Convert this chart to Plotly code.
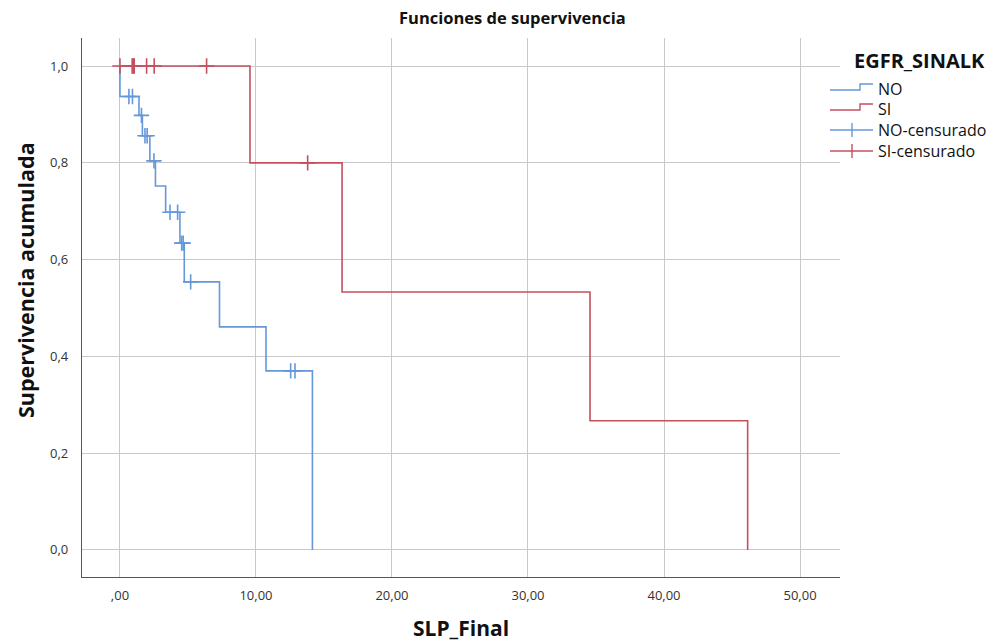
import plotly.graph_objects as go

# Kaplan-Meier step estimates per group (event time, survival after the event)
no_times = [0.0, 1.40, 1.65, 2.20, 2.61, 3.36, 4.41, 4.73, 7.32, 10.74, 14.15]
no_surv = [0.937, 0.898, 0.856, 0.804, 0.752, 0.698, 0.634, 0.554, 0.461, 0.370, 0.0]
no_cens = [0.66, 0.92, 1.58, 1.84, 2.00, 2.50, 3.68, 4.24, 4.54, 4.65, 5.20, 12.55, 12.87]

si_times = [9.56, 16.33, 34.56, 46.15]
si_surv = [0.800, 0.533, 0.267, 0.0]
si_cens = [0.0, 0.90, 0.98, 1.05, 1.96, 2.52, 6.37, 13.80]

x_ticks = [0, 10, 20, 30, 40, 50]
x_ticktext = [",00", "10,00", "20,00", "30,00", "40,00", "50,00"]
y_ticks = [0.0, 0.2, 0.4, 0.6, 0.8, 1.0]
y_ticktext = ["0,0", "0,2", "0,4", "0,6", "0,8", "1,0"]

legend_labels = ["NO", "SI", "NO-censurado", "SI-censurado"]

BLUE = "#6598da"
RED = "#c4505f"
FONT = "Open Sans"
W, H = 1008, 643
L, R, T, B = 82, 168, 38, 66


def level_at(times, surv, t):
    s = 1.0
    for ti, si in zip(times, surv):
        if ti <= t:
            s = si
    return s


def px_x(px):
    return (px - L) / (W - L - R)


def px_y(py):
    return 1 - (py - T) / (H - T - B)


fig = go.Figure()

fig.add_trace(go.Scatter(
    x=[0.0] + no_times, y=[1.0] + no_surv, mode="lines", line_shape="hv",
    line=dict(color=BLUE, width=1.6), name=legend_labels[0], showlegend=False))
fig.add_trace(go.Scatter(
    x=[0.0] + si_times, y=[1.0] + si_surv, mode="lines", line_shape="hv",
    line=dict(color=RED, width=1.6), name=legend_labels[1], showlegend=False))
fig.add_trace(go.Scatter(
    x=no_cens, y=[level_at(no_times, no_surv, t) for t in no_cens],
    mode="markers", name=legend_labels[2], showlegend=False,
    marker=dict(symbol="cross-thin", size=11, line=dict(color=BLUE, width=1.6))))
fig.add_trace(go.Scatter(
    x=si_cens, y=[level_at(si_times, si_surv, t) for t in si_cens],
    mode="markers", name=legend_labels[3], showlegend=False,
    marker=dict(symbol="cross-thin", size=11, line=dict(color=RED, width=1.6))))

annotations = [
    dict(text="<b>Funciones de supervivencia</b>", x=px_x(512), y=px_y(17),
         xref="paper", yref="paper", showarrow=False, xanchor="center", yanchor="middle",
         font=dict(size=16.5, color="#111111")),
    dict(text="<b>SLP_Final</b>", x=px_x(461), y=px_y(628),
         xref="paper", yref="paper", showarrow=False, xanchor="center", yanchor="middle",
         font=dict(size=21, color="#111111")),
    dict(text="<b>Supervivencia acumulada</b>", x=px_x(25), y=px_y(280), textangle=-90,
         xref="paper", yref="paper", showarrow=False, xanchor="center", yanchor="middle",
         font=dict(size=21.5, color="#111111")),
    dict(text="<b>EGFR_SINALK</b>", x=px_x(852), y=px_y(60),
         xref="paper", yref="paper", showarrow=False, xanchor="left", yanchor="middle",
         font=dict(size=20, color="#111111")),
]

# Legend drawn by hand: step icons for the curves, tick-on-line icons for censoring
shapes = []
legend_rows = [89, 109, 130, 151]
legend_colors = [BLUE, RED, BLUE, RED]
for i, (label, row, col) in enumerate(zip(legend_labels, legend_rows, legend_colors)):
    annotations.append(dict(
        text=label, x=px_x(876), y=px_y(row), xref="paper", yref="paper",
        showarrow=False, xanchor="left", yanchor="middle",
        font=dict(size=16, color="#111111")))
    if i < 2:
        lo, hi = px_y(row + 1), px_y(row - 5)
        path = (f"M {px_x(830)} {lo} L {px_x(860)} {lo} L {px_x(860)} {hi} "
                f"L {px_x(873)} {hi}")
        shapes.append(dict(type="path", path=path, xref="paper", yref="paper",
                           line=dict(color=col, width=1.4)))
    else:
        shapes.append(dict(type="line", x0=px_x(830), x1=px_x(873),
                           y0=px_y(row), y1=px_y(row), xref="paper", yref="paper",
                           line=dict(color=col, width=1.4)))
        shapes.append(dict(type="line", x0=px_x(852), x1=px_x(852),
                           y0=px_y(row - 7), y1=px_y(row + 7), xref="paper", yref="paper",
                           line=dict(color=col, width=1.4)))

fig.update_layout(
    width=W, height=H,
    margin=dict(l=L, r=R, t=T, b=B),
    paper_bgcolor="white", plot_bgcolor="white",
    font=dict(family=FONT, color="#222222"),
    annotations=annotations,
    shapes=shapes,
    showlegend=False,
    xaxis=dict(
        range=[-2.79, 52.94], tickvals=x_ticks, ticktext=x_ticktext,
        showgrid=True, gridcolor="#c9c9c9", gridwidth=1.2, zeroline=False,
        showline=True, linecolor="#555555", linewidth=1.2, ticks="",
        ticklabelstandoff=6,
        tickfont=dict(size=13, color="#333333")),
    yaxis=dict(
        range=[-0.056, 1.058], tickvals=y_ticks, ticktext=y_ticktext,
        showgrid=True, gridcolor="#c9c9c9", gridwidth=1.2, zeroline=False,
        showline=True, linecolor="#555555", linewidth=1.2, ticks="",
        ticklabelstandoff=10,
        tickfont=dict(size=13, color="#333333")),
)

fig.write_html("out.html")
